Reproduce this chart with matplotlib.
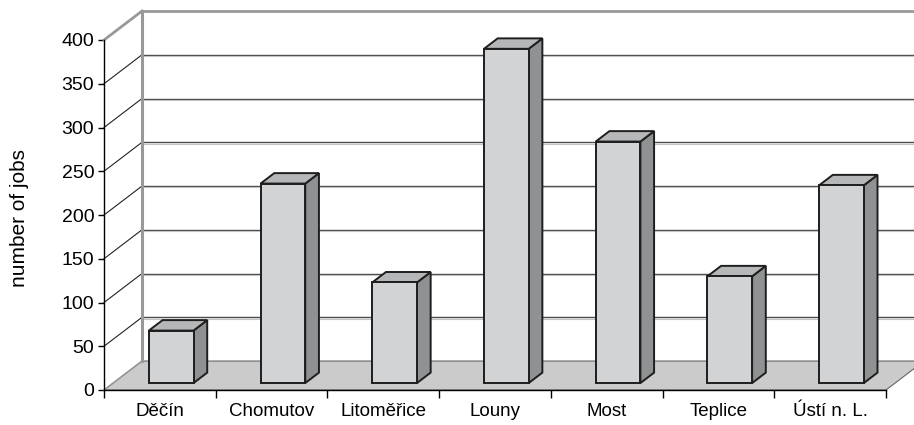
import matplotlib
matplotlib.use('AGG')
import matplotlib.pyplot as plt
from matplotlib.patches import Polygon

districts = ['Děčín', 'Chomutov', 'Litoměřice', 'Louny', 'Most', 'Teplice', 'Ústí n. L.']
jobs = [60, 228, 115, 382, 276, 122, 226]
y_ticks = [0, 50, 100, 150, 200, 250, 300, 350, 400]

plt.rcParams['font.family'] = ['Liberation Sans', 'DejaVu Sans']

# oblique depth of the chart box, in data units (categories, jobs)
DX, DY = 0.34, 33.1
# bars sit inside the box between these depth fractions
F0, F1 = 0.24, 0.60
BAR_W, BAR_SHIFT = 0.40, 0.02
n = len(districts)
ymax = y_ticks[-1]

fig = plt.figure(figsize=(9.14, 4.25), dpi=100)
ax = fig.add_axes([104 / 914, 35 / 425, 782 / 914, 350 / 425])
ax.set_xlim(0, n)
ax.set_ylim(0, ymax)
ax.patch.set_visible(False)

# floor
ax.add_patch(Polygon([(0, 0), (n, 0), (n + DX, DY), (DX, DY)], closed=True,
                     facecolor='#cbcbcb', edgecolor='#666666', lw=0.8,
                     clip_on=False, zorder=1))

# back wall grid and side wall diagonals
for v in y_ticks[1:]:
    top = v == ymax
    col = '#999999' if top else '#4a4a4a'
    lw = 2.0 if top else 1.0
    ax.plot([DX, n + DX + 1], [v + DY, v + DY], color=col, lw=lw,
            clip_on=False, zorder=2, solid_capstyle='butt')
    ax.plot([0, DX], [v, v + DY], color='#999999' if top else '#222222',
            lw=lw if top else 0.8, clip_on=False, zorder=2)
    if not top:
        ax.plot([DX, n + DX + 1], [v + DY - 1.6, v + DY - 1.6], color='#c4c4c4',
                lw=0.8, clip_on=False, zorder=2)
ax.plot([DX, DX], [DY, ymax + DY], color='#999999', lw=2.2, clip_on=False, zorder=2)
ax.plot([0, DX], [0, DY], color='#999999', lw=1.0, clip_on=False, zorder=2)

# 3d bars
sx0, sy0 = F0 * DX, F0 * DY
sx1, sy1 = F1 * DX, F1 * DY
for i, v in enumerate(jobs):
    x0 = i + 0.5 - BAR_W / 2 + BAR_SHIFT
    x1 = x0 + BAR_W
    front = [(x0 + sx0, sy0), (x1 + sx0, sy0), (x1 + sx0, v + sy0), (x0 + sx0, v + sy0)]
    topf = [(x0 + sx0, v + sy0), (x1 + sx0, v + sy0), (x1 + sx1, v + sy1), (x0 + sx1, v + sy1)]
    side = [(x1 + sx0, sy0), (x1 + sx1, sy1), (x1 + sx1, v + sy1), (x1 + sx0, v + sy0)]
    for pts, fc in [(side, '#909193'), (topf, '#b6b7b9'), (front, '#d2d3d5')]:
        ax.add_patch(Polygon(pts, closed=True, facecolor=fc, edgecolor='#1e1e1e',
                             lw=1.4, joinstyle='miter', clip_on=False, zorder=4))

for s in ['top', 'right']:
    ax.spines[s].set_visible(False)
ax.spines['left'].set_linewidth(1.0)
ax.spines['bottom'].set_linewidth(1.0)
ax.spines['left'].set_zorder(3)
ax.spines['bottom'].set_zorder(3)

ax.set_yticks(y_ticks)
ax.set_yticklabels([str(t) for t in y_ticks], fontsize=14)
ax.tick_params(axis='y', length=4, width=1.0, pad=3)
ax.set_xticks(range(n + 1))
ax.set_xticklabels([])
ax.set_xticks([i + 0.5 for i in range(n)], minor=True)
ax.set_xticklabels(districts, minor=True, fontsize=13.5)
ax.tick_params(axis='x', which='major', length=6, width=1.0, direction='out')
ax.tick_params(axis='x', which='minor', length=0, pad=9)

fig.text(20 / 914, 1 - 218 / 425, 'number of jobs', rotation=90,
         ha='center', va='center', fontsize=15)

fig.savefig('out.png', dpi=100)
plt.close(fig)
